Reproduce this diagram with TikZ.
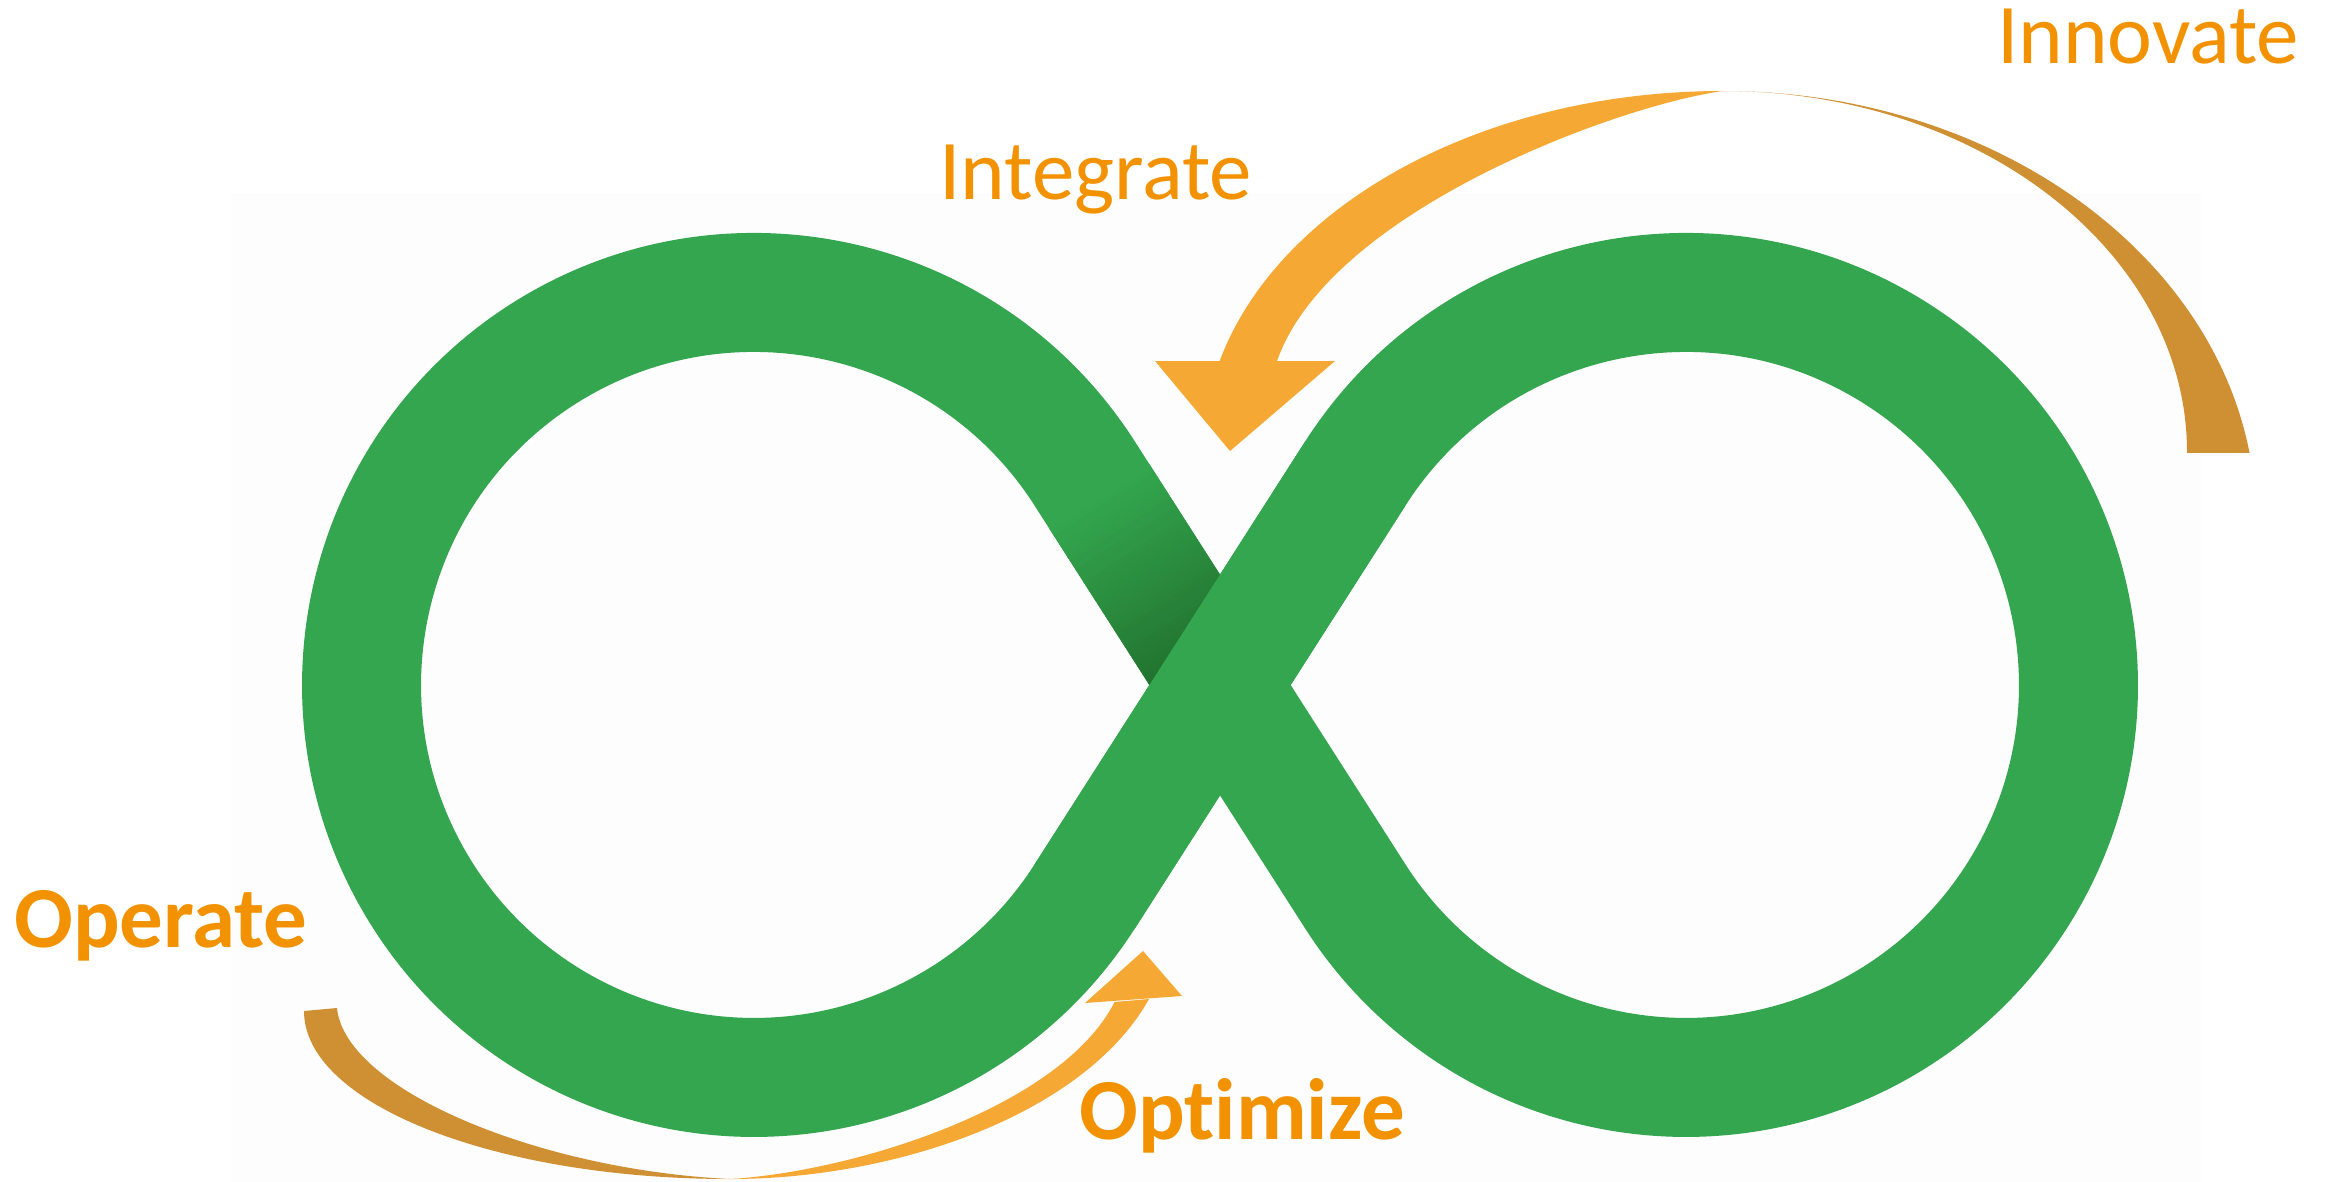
\documentclass[tikz,border=0pt]{standalone}
\usepackage{fontspec}
\setmainfont{Carlito}[Ligatures={NoCommon,NoContextual}]
\definecolor{gmain}{RGB}{51,166,79}
\definecolor{gdark}{RGB}{33,112,45}
\definecolor{olight}{RGB}{245,168,51}
\definecolor{odark}{RGB}{207,144,51}
\definecolor{otext}{RGB}{243,146,0}
\definecolor{bgfaint}{RGB}{253,253,253}
\begin{document}
\begin{tikzpicture}[x=1pt,y=-1pt,
  lblreg/.style={text=otext, inner sep=0pt, font=\fontsize{85}{100}\selectfont, anchor=base west},
  lblbold/.style={text=otext, inner sep=0pt, font=\fontsize{87}{100}\selectfont\bfseries, anchor=base west},
  band/.style={draw=gmain, line width=119pt, line join=round},
  lightarrow/.style={fill=olight},
  darkarrow/.style={fill=odark}
]
\useasboundingbox (0,0) rectangle (2331,1182);
\fill[bgfaint] (231,193) rectangle (2201,1182);

% key points of the infinity centre line
\coordinate (C) at (1220,685);
\coordinate (LU) at (1084.7,473.5);
\coordinate (LD) at (1084.7,896.5);
\coordinate (RU) at (1355.3,473.5);
\coordinate (RD) at (1355.3,896.5);

\draw[band] (C) -- (LU) arc[start angle=-32.6, end angle=-327.4, radius=392.5]
  -- (C) -- (RU) arc[start angle=212.6, end angle=507.4, radius=392.5]
  -- cycle;

% shaded part of the band passing under the crossing
\foreach \i in {0,...,39}{
  \pgfmathsetmacro{\ta}{225-5*\i}
  \pgfmathsetmacro{\tb}{\ta-5.6}
  \pgfmathtruncatemacro{\p}{100*\i/39}
  \fill[gdark!\p!gmain] ({1220-0.5389*\ta+50.13},{685-0.8425*\ta-32.07})
    -- ({1220-0.5389*\ta-50.13},{685-0.8425*\ta+32.07})
    -- ({1220-0.5389*\tb-50.13},{685-0.8425*\tb+32.07})
    -- ({1220-0.5389*\tb+50.13},{685-0.8425*\tb-32.07}) -- cycle;
}
\draw[band] (LD) -- (RU);

% top arrow: dark tail (Innovate)
\begin{scope}
  \clip (0,0) rectangle (2331,452);
  \fill[darkarrow] (1723,91) .. controls (2017.4,91) and (2256,283.1) .. (2256,520)
    -- (2187,520) -- (2187,452) .. controls (2187,252.6) and (1979.3,91) .. (1723,91) -- cycle;
\end{scope}
% top arrow: light shaft (Integrate)
\begin{scope}
  \clip (0,0) rectangle (2331,361);
  \fill[lightarrow] (1723,91) .. controls (1435.8,91) and (1203,252.6) .. (1203,452)
    -- (1241,452) -- (1277,361) .. controls (1330,210) and (1620,105) .. (1723,91) -- cycle;
\end{scope}
\fill[lightarrow] (1155,361) -- (1335,361) -- (1230,451) -- cycle;

% bottom arrow: dark tail (Operate)
\fill[darkarrow] (304,1011) .. controls (304,1103.8) and (494.7,1179) .. (730,1179)
  .. controls (540,1170) and (345,1090) .. (337,1008) -- cycle;
% bottom arrow: light shaft (Optimize)
\fill[lightarrow] (730,1179) .. controls (900,1179) and (1085.6,1112.5) .. (1149,999)
  -- (1114.6,1002) .. controls (1060,1108.8) and (850,1172) .. (730,1179) -- cycle;
\fill[lightarrow] (1085,1003) -- (1182,996) -- (1143,951) -- cycle;

% labels
\node[lblreg] (innovate) at (1997,64) {Innovate};
\node[lblreg] (integrate) at (939,200) {Integrate};
\node[lblbold] (operate) at (14,947) {Operate};
\node[lblbold] (optimize) at (1079,1139) {Optimize};
\end{tikzpicture}
\end{document}
